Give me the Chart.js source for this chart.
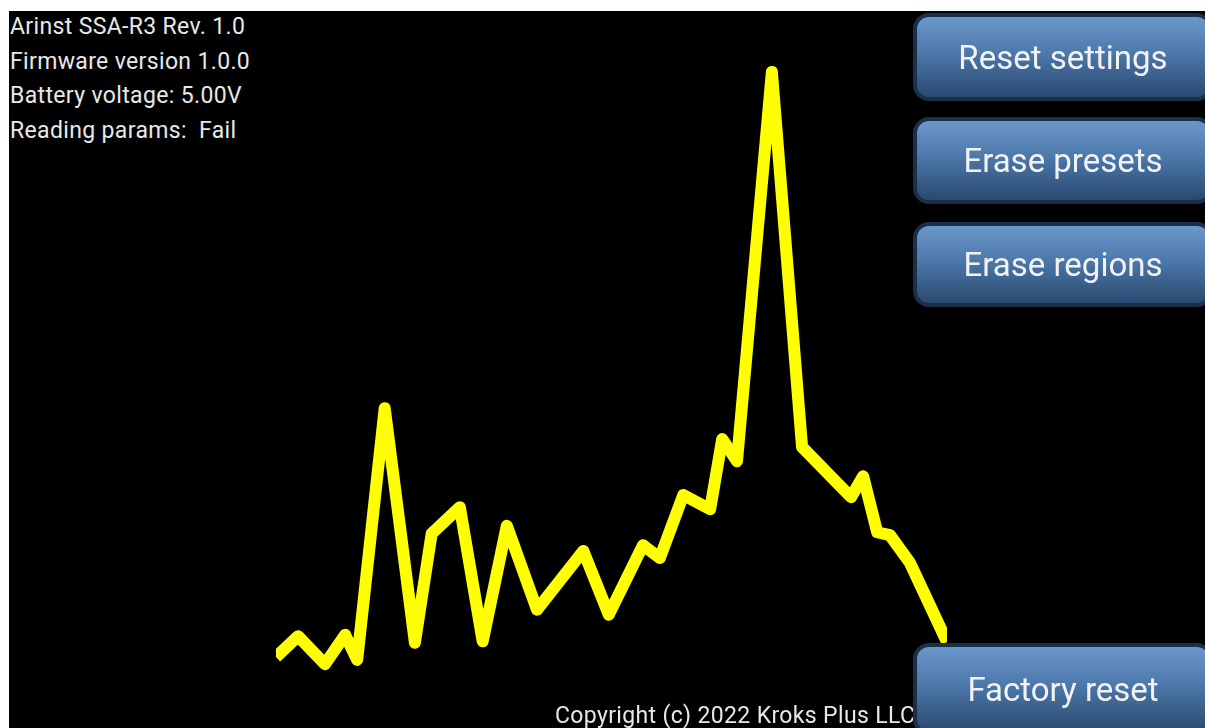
<!DOCTYPE html>
<html>
<head>
<meta charset="utf-8">
<script src="https://cdn.jsdelivr.net/npm/chart.js@4.4.1/dist/chart.umd.min.js"></script>
<style>
  html, body { margin: 0; padding: 0; background: #ffffff; }
  body { width: 1205px; height: 728px; position: relative; overflow: hidden; font-family: Roboto, "Noto Sans", sans-serif; }
  #screen { position: absolute; left: 9px; top: 11px; width: 1196px; height: 717px; background: #000; }
  #plot { position: absolute; left: 276px; top: 11px; width: 671px; height: 717px; }
  .info { position: absolute; left: 10px; top: 10px; color: #e8e8e8; font-size: 23px; letter-spacing: 0.35px; line-height: 34.7px; white-space: pre; }
  .copy { position: absolute; left: 555px; top: 703px; color: #e8e8e8; font-size: 23px; letter-spacing: 0.35px; line-height: 25px; white-space: pre; }
  .btn { position: absolute; left: 913px; width: 300px; box-sizing: border-box; border: 4px solid #1a2f48; border-radius: 16px;
         background: linear-gradient(to bottom, #6b97cb 0%, #4c78aa 45%, #2a4970 100%);
         color: #f2f2f2; font-size: 33px; display: flex; align-items: center; justify-content: center; }
</style>
</head>
<body>
<div id="screen"></div>
<div id="plot"><canvas id="c" width="671" height="717"></canvas></div>
<div class="info" id="info"></div>
<div class="copy" id="copy"></div>
<div class="btn" style="top:13px;height:88px;">Reset settings</div>
<div class="btn" style="top:117px;height:87px;">Erase presets</div>
<div class="btn" style="top:222px;height:85px;">Erase regions</div>
<div class="btn" style="top:643px;height:92px;">Factory reset</div>
<script>
// Spectrum trace: frequency (MHz) and level (dBm)
const freqMHz = [2400.0, 2403.3, 2407.3, 2410.3, 2412.1, 2416.2, 2420.7, 2423.2, 2427.4, 2430.8,
                 2434.4, 2438.9, 2445.8, 2449.6, 2454.7, 2457.2, 2460.7, 2464.7, 2466.5, 2468.7,
                 2473.9, 2478.4, 2485.7, 2487.5, 2489.6, 2491.5, 2494.5, 2500.0];
const levelDbm = [-100.1, -97.2, -101.1, -97.0, -100.5, -65.4, -98.1, -82.9, -79.2, -97.9,
                  -81.8, -93.5, -85.3, -94.2, -84.5, -86.3, -77.5, -79.5, -69.7, -72.8,
                  -18.5, -70.8, -77.8, -74.9, -82.7, -83.1, -87.0, -98.0];
const freqRange = [2400, 2500];
const levelRange = [-110, -10];
const infoLines = ["Arinst SSA-R3 Rev. 1.0", "Firmware version 1.0.0", "Battery voltage: 5.00V", "Reading params:  Fail"];
const copyright = "Copyright (c) 2022 Kroks Plus LLC";

document.getElementById('info').textContent = infoLines.join('\n');
document.getElementById('copy').textContent = copyright;

const points = freqMHz.map((f, i) => ({ x: f, y: levelDbm[i] }));

new Chart(document.getElementById('c'), {
  type: 'line',
  data: {
    datasets: [{
      data: points,
      borderColor: '#ffff00',
      borderWidth: 12,
      borderJoinStyle: 'round',
      borderCapStyle: 'butt',
      pointRadius: 0,
      tension: 0,
      fill: false
    }]
  },
  options: {
    responsive: false,
    animation: false,
    layout: { padding: 0 },
    plugins: { legend: { display: false }, tooltip: { enabled: false } },
    scales: {
      x: { type: 'linear', min: freqRange[0], max: freqRange[1], display: false },
      y: { type: 'linear', min: levelRange[0], max: levelRange[1], display: false }
    }
  }
});
</script>
</body>
</html>
